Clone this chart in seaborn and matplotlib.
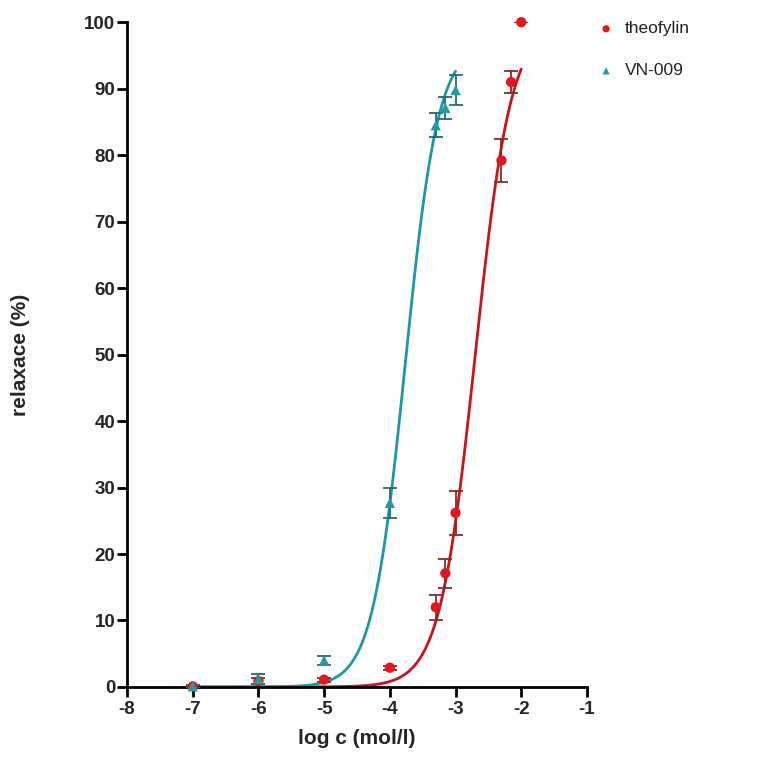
import numpy as np
import pandas as pd
import matplotlib
matplotlib.use("Agg")
import matplotlib.pyplot as plt
import seaborn as sns

# --- data (log c in mol/l, relaxation in %, SEM) ---
log_c = [-7, -6, -5, -4, -3.301, -3.155, -3.0, -2.301, -2.155, -2.0]

theo_y = [0.1, 0.9, 1.1, 2.9, 12.0, 17.1, 26.2, 79.2, 91.0, 100.0]
theo_err = [0.2, 0.4, 0.3, 0.3, 1.9, 2.2, 3.3, 3.2, 1.7, 0.0]

vn_log_c = [-7, -6, -5, -4, -3.301, -3.155, -3.0]
vn_y = [0.1, 1.2, 4.0, 27.7, 84.5, 87.1, 89.8]
vn_err = [0.2, 0.8, 0.7, 2.3, 1.8, 1.7, 2.2]

# sigmoidal fit parameters (as drawn in the figure): logEC50, Hill slope, top, range
theo_fit = {"logec50": -2.70, "hill": 1.60, "top": 100.0, "x0": -7, "x1": -2.0}
vn_fit = {"logec50": -3.767, "hill": 1.73, "top": 97.0, "x0": -7, "x1": -3.0}

labels = ["theofylin", "VN-009"]
x_ticks = [-8, -7, -6, -5, -4, -3, -2, -1]
y_ticks = [0, 10, 20, 30, 40, 50, 60, 70, 80, 90, 100]

RED = "#e3171d"
RED_LINE = "#c8141c"
RED_ERR = "#8a2a2a"
TEAL = "#2499a6"
TEAL_LINE = "#1f97a4"
TEAL_ERR = "#246b72"


def hill_curve(p, n=300):
    x = np.linspace(p["x0"], p["x1"], n)
    y = p["top"] / (1.0 + 10 ** ((p["logec50"] - x) * p["hill"]))
    return pd.DataFrame({"x": x, "y": y})


sns.set_style("ticks")
plt.rcParams["font.family"] = ["Liberation Sans", "DejaVu Sans"]

fig = plt.figure(figsize=(7.79, 7.58), dpi=100)
ax = fig.add_axes([0.163, 0.0937, 0.5905, 0.877])

# fitted curves
sns.lineplot(data=hill_curve(theo_fit), x="x", y="y", ax=ax, color=RED_LINE, lw=2.0)
sns.lineplot(data=hill_curve(vn_fit), x="x", y="y", ax=ax, color=TEAL_LINE, lw=2.0)

# error bars
ax.errorbar(log_c, theo_y, yerr=theo_err, fmt="none", ecolor=RED_ERR,
            elinewidth=1.3, capsize=5, capthick=1.3, zorder=3)
ax.errorbar(vn_log_c, vn_y, yerr=vn_err, fmt="none", ecolor=TEAL_ERR,
            elinewidth=1.3, capsize=5, capthick=1.3, zorder=3)

# points
theo_df = pd.DataFrame({"x": log_c, "y": theo_y})
vn_df = pd.DataFrame({"x": vn_log_c, "y": vn_y})
sns.scatterplot(data=theo_df, x="x", y="y", ax=ax, color=RED, marker="o",
                s=55, edgecolor="none", label=labels[0], zorder=4)
sns.scatterplot(data=vn_df, x="x", y="y", ax=ax, color=TEAL, marker="^",
                s=55, edgecolor="none", label=labels[1], zorder=4)

ax.set_xlim(-8, -1)
ax.set_ylim(0, 100)
ax.set_xticks(x_ticks)
ax.set_yticks(y_ticks)

for side in ["top", "right"]:
    ax.spines[side].set_visible(False)
for side in ["left", "bottom"]:
    ax.spines[side].set_linewidth(2)
    ax.spines[side].set_color("black")

ax.tick_params(axis="both", width=2, length=7, color="black", pad=3, labelsize=13.5)
ax.tick_params(axis="y", pad=1.5)
ax.set_xticklabels([str(t) for t in x_ticks], fontsize=13.5, fontweight="bold")
ax.set_yticklabels([str(t) for t in y_ticks], fontsize=13.5, fontweight="bold")

ax.set_xlabel("log c (mol/l)", fontsize=15, fontweight="bold", labelpad=8)
ax.set_ylabel("relaxace (%)", fontsize=15, fontweight="bold", labelpad=39)

leg = ax.legend(loc="upper left", bbox_to_anchor=(1.0, 1.012), frameon=False,
                fontsize=12.5, handletextpad=0.4, handlelength=1.4,
                labelspacing=1.55, markerscale=0.7, borderaxespad=0.0)
for txt in leg.get_texts():
    txt.set_color("#222222")

for coll in ax.collections:
    coll.set_clip_on(False)

fig.savefig("out.png", dpi=100, facecolor="white")
